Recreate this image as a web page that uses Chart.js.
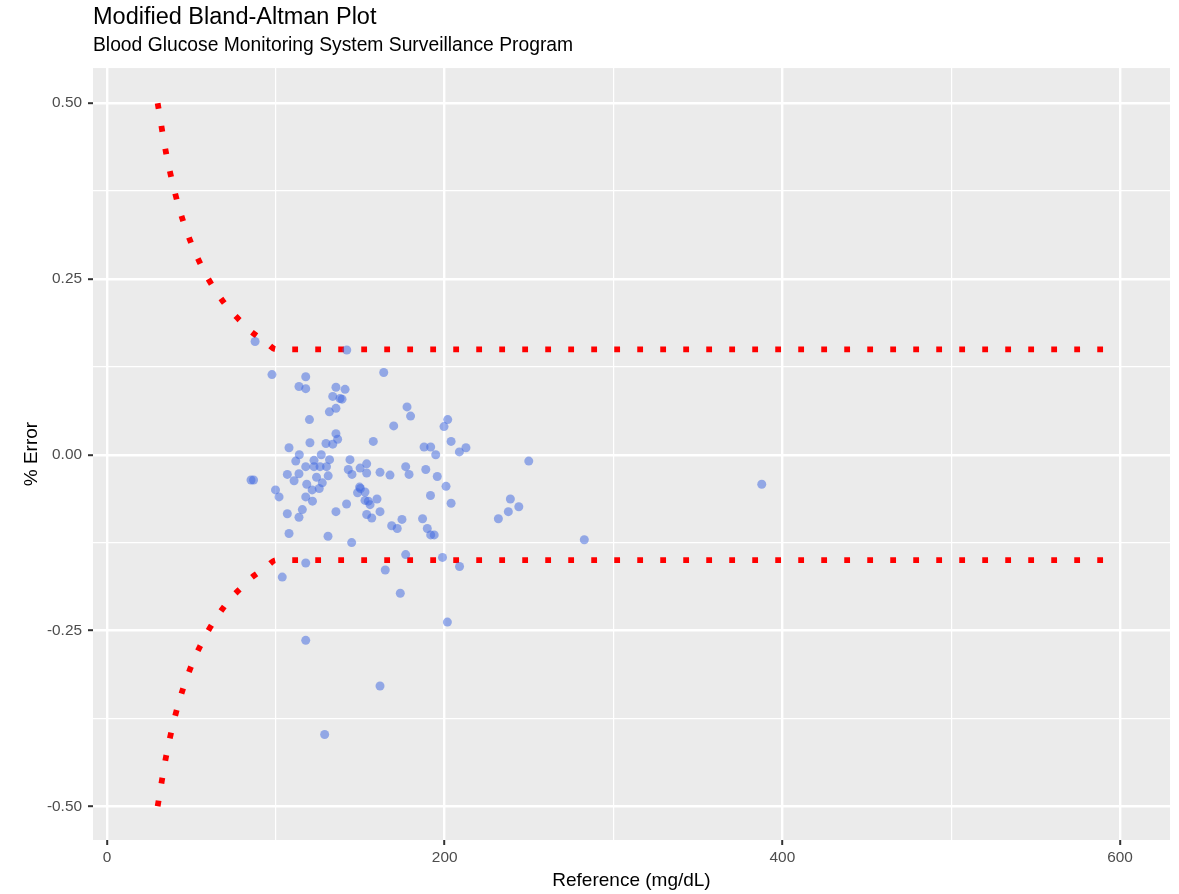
<!DOCTYPE html>
<html>
<head>
<meta charset="utf-8">
<title>Modified Bland-Altman Plot</title>
<script src="https://cdn.jsdelivr.net/npm/chart.js@4.4.1/dist/chart.umd.min.js"></script>
<style>
  html, body { margin: 0; padding: 0; background: #ffffff; }
  #wrap { width: 1179px; height: 894px; position: relative; }
</style>
</head>
<body>
<div id="wrap"><canvas id="blandAltman"></canvas></div>
<script>
"use strict";

// meter readings: reference value (mg/dL) and relative error
const reference = [
  87.7, 97.7, 117.7, 113.7, 117.7, 119.9, 120.2, 107.8, 113.9, 111.8,
  117.7, 106.8, 113.7, 110.8, 118.3, 85.3, 86.8, 99.8, 101.9, 117.7,
  115.7, 106.8, 113.7, 107.8, 117.7, 103.8, 135.6, 133.7, 138.0, 139.2,
  131.7, 135.6, 135.6, 136.6, 129.7, 133.7, 126.9, 131.8, 122.6, 122.6,
  126.2, 130.0, 142.0, 163.9, 141.0, 177.7, 179.8, 169.8, 201.8, 199.6,
  157.7, 203.8, 187.8, 191.7, 208.7, 212.6, 194.7, 143.9, 124.1, 131.0,
  142.9, 145.1, 149.9, 153.8, 153.8, 161.7, 167.6, 176.9, 178.9, 188.8,
  195.6, 127.5, 121.5, 125.7, 149.6, 150.1, 148.4, 152.8, 200.8, 121.7,
  159.9, 152.8, 154.8, 155.8, 141.9, 191.6, 203.8, 135.6, 161.7, 153.8,
  156.8, 174.7, 186.9, 168.6, 171.9, 189.7, 191.7, 193.8, 130.9, 144.9,
  231.8, 238.9, 243.9, 237.7, 249.8, 282.7, 387.8, 176.9, 198.7, 208.8,
  164.8, 173.7, 201.6, 117.7, 161.7, 128.9
];
const pctError = [
  0.161, 0.114, 0.111, 0.097, 0.094, 0.050, 0.017, 0.010, 0.000, -0.009,
  -0.017, -0.028, -0.027, -0.037, -0.042, -0.036, -0.036, -0.050, -0.060, -0.060,
  -0.078, -0.084, -0.089, -0.112, -0.154, -0.174, 0.096, 0.083, 0.080, 0.079,
  0.061, 0.066, 0.030, 0.022, 0.016, 0.015, 0.000, -0.007, -0.008, -0.017,
  -0.017, -0.017, 0.149, 0.117, 0.093, 0.068, 0.055, 0.041, 0.050, 0.040,
  0.019, 0.019, 0.011, 0.011, 0.004, 0.010, 0.000, -0.007, -0.032, -0.030,
  -0.021, -0.028, -0.019, -0.013, -0.026, -0.025, -0.029, -0.017, -0.028, -0.021,
  -0.031, -0.040, -0.050, -0.048, -0.046, -0.048, -0.054, -0.053, -0.045, -0.066,
  -0.063, -0.065, -0.066, -0.071, -0.070, -0.058, -0.069, -0.081, -0.081, -0.085,
  -0.090, -0.092, -0.091, -0.101, -0.105, -0.105, -0.114, -0.114, -0.116, -0.125,
  -0.091, -0.063, -0.074, -0.081, -0.009, -0.121, -0.042, -0.142, -0.146, -0.159,
  -0.164, -0.197, -0.238, -0.264, -0.329, -0.398
];

// acceptance limits: +/-15 mg/dL below 100, +/-15% above
const limitRef = [30, 35, 40, 45, 50, 55, 60, 65, 70, 75, 80, 85, 90, 95, 100, 600];
const upperLimit = [0.5, 0.429, 0.375, 0.333, 0.3, 0.273, 0.25, 0.231, 0.214, 0.2, 0.188, 0.176, 0.167, 0.158, 0.15, 0.15];
const lowerLimit = [-0.5, -0.429, -0.375, -0.333, -0.3, -0.273, -0.25, -0.231, -0.214, -0.2, -0.188, -0.176, -0.167, -0.158, -0.15, -0.15];

// axes
const xGrid = [0, 100, 200, 300, 400, 500, 600];
const xGridLabels = ["0", "", "200", "", "400", "", "600"];
const yGrid = [-0.5, -0.375, -0.25, -0.125, 0, 0.125, 0.25, 0.375, 0.5];
const yGridLabels = ["-0.50", "", "-0.25", "", "0.00", "", "0.25", "", "0.50"];

const FONT = "'Liberation Sans', Arial, Helvetica, sans-serif";

const panelBackground = {
  id: "panelBackground",
  beforeDraw(chart) {
    const { ctx, chartArea } = chart;
    ctx.save();
    ctx.fillStyle = "#EBEBEB";
    ctx.fillRect(chartArea.left, chartArea.top, chartArea.right - chartArea.left, chartArea.bottom - chartArea.top);
    ctx.restore();
  }
};

const isMajor = (labels) => (ctx) => labels[ctx.index] !== "";

const canvas = document.getElementById("blandAltman");

new Chart(canvas, {
  type: "scatter",
  data: {
    datasets: [
      {
        label: "Readings",
        data: reference.map((x, i) => ({ x: x, y: pctError[i] })),
        pointRadius: 4.5,
        pointHoverRadius: 4.5,
        pointBackgroundColor: "rgba(65, 105, 225, 0.52)",
        pointBorderWidth: 0,
      },
      {
        label: "Upper limit",
        data: limitRef.map((x, i) => ({ x: x, y: upperLimit[i] })),
        showLine: true,
        pointRadius: 0,
        borderColor: "#FF0000",
        borderWidth: 5.8,
        borderDash: [5.8, 17.2],
        borderCapStyle: "butt",
        cubicInterpolationMode: "monotone",
      },
      {
        label: "Lower limit",
        data: limitRef.map((x, i) => ({ x: x, y: lowerLimit[i] })),
        showLine: true,
        pointRadius: 0,
        borderColor: "#FF0000",
        borderWidth: 5.8,
        borderDash: [5.8, 17.2],
        borderCapStyle: "butt",
        cubicInterpolationMode: "monotone",
      },
    ],
  },
  options: {
    responsive: true,
    maintainAspectRatio: false,
    animation: false,
    layout: { padding: { top: 0, right: 9, bottom: 0, left: 0 } },
    plugins: {
      legend: { display: false },
      tooltip: { enabled: false },
      title: {
        display: true,
        text: "Modified Bland-Altman Plot",
        align: "start",
        fullSize: false,
        color: "#000000",
        font: { family: FONT, size: 23.5, weight: "normal" },
        padding: { top: 3.7, bottom: 0 },
      },
      subtitle: {
        display: true,
        text: "Blood Glucose Monitoring System Surveillance Program",
        align: "start",
        fullSize: false,
        color: "#000000",
        font: { family: FONT, size: 19.3, weight: "normal" },
        padding: { top: 2.6, bottom: 10.4 },
      },
    },
    scales: {
      x: {
        type: "linear",
        min: -8.3,
        max: 629.6,
        afterBuildTicks: (axis) => { axis.ticks = xGrid.map((v) => ({ value: v })); },
        afterFit: (axis) => { axis.height = 54; },
        border: { display: false },
        grid: {
          color: "#FFFFFF",
          lineWidth: (ctx) => (isMajor(xGridLabels)(ctx) ? 2.4 : 1.2),
          tickColor: (ctx) => (isMajor(xGridLabels)(ctx) ? "#333333" : "rgba(0,0,0,0)"),
          tickLength: 5,
          tickWidth: 2,
        },
        ticks: {
          autoSkip: false,
          maxRotation: 0,
          padding: 4,
          color: "#4D4D4D",
          font: { family: FONT, size: 15.4 },
          callback: (value, index) => xGridLabels[index],
        },
        title: {
          display: true,
          text: "Reference (mg/dL)",
          color: "#000000",
          font: { family: FONT, size: 19 },
          padding: { top: 0, bottom: 1.6 },
        },
      },
      y: {
        type: "linear",
        min: -0.548,
        max: 0.55,
        afterBuildTicks: (axis) => { axis.ticks = yGrid.map((v) => ({ value: v })); },
        afterFit: (axis) => { axis.width = 93; },
        border: { display: false },
        grid: {
          color: "#FFFFFF",
          lineWidth: (ctx) => (isMajor(yGridLabels)(ctx) ? 2.4 : 1.2),
          tickColor: (ctx) => (isMajor(yGridLabels)(ctx) ? "#333333" : "rgba(0,0,0,0)"),
          tickLength: 5,
          tickWidth: 2,
        },
        ticks: {
          autoSkip: false,
          padding: 6,
          color: "#4D4D4D",
          font: { family: FONT, size: 15.4 },
          callback: (value, index) => yGridLabels[index],
        },
        title: {
          display: true,
          text: "% Error",
          color: "#000000",
          font: { family: FONT, size: 19 },
          padding: { top: 20.6, bottom: 0 },
        },
      },
    },
  },
  plugins: [panelBackground],
});
</script>
</body>
</html>
